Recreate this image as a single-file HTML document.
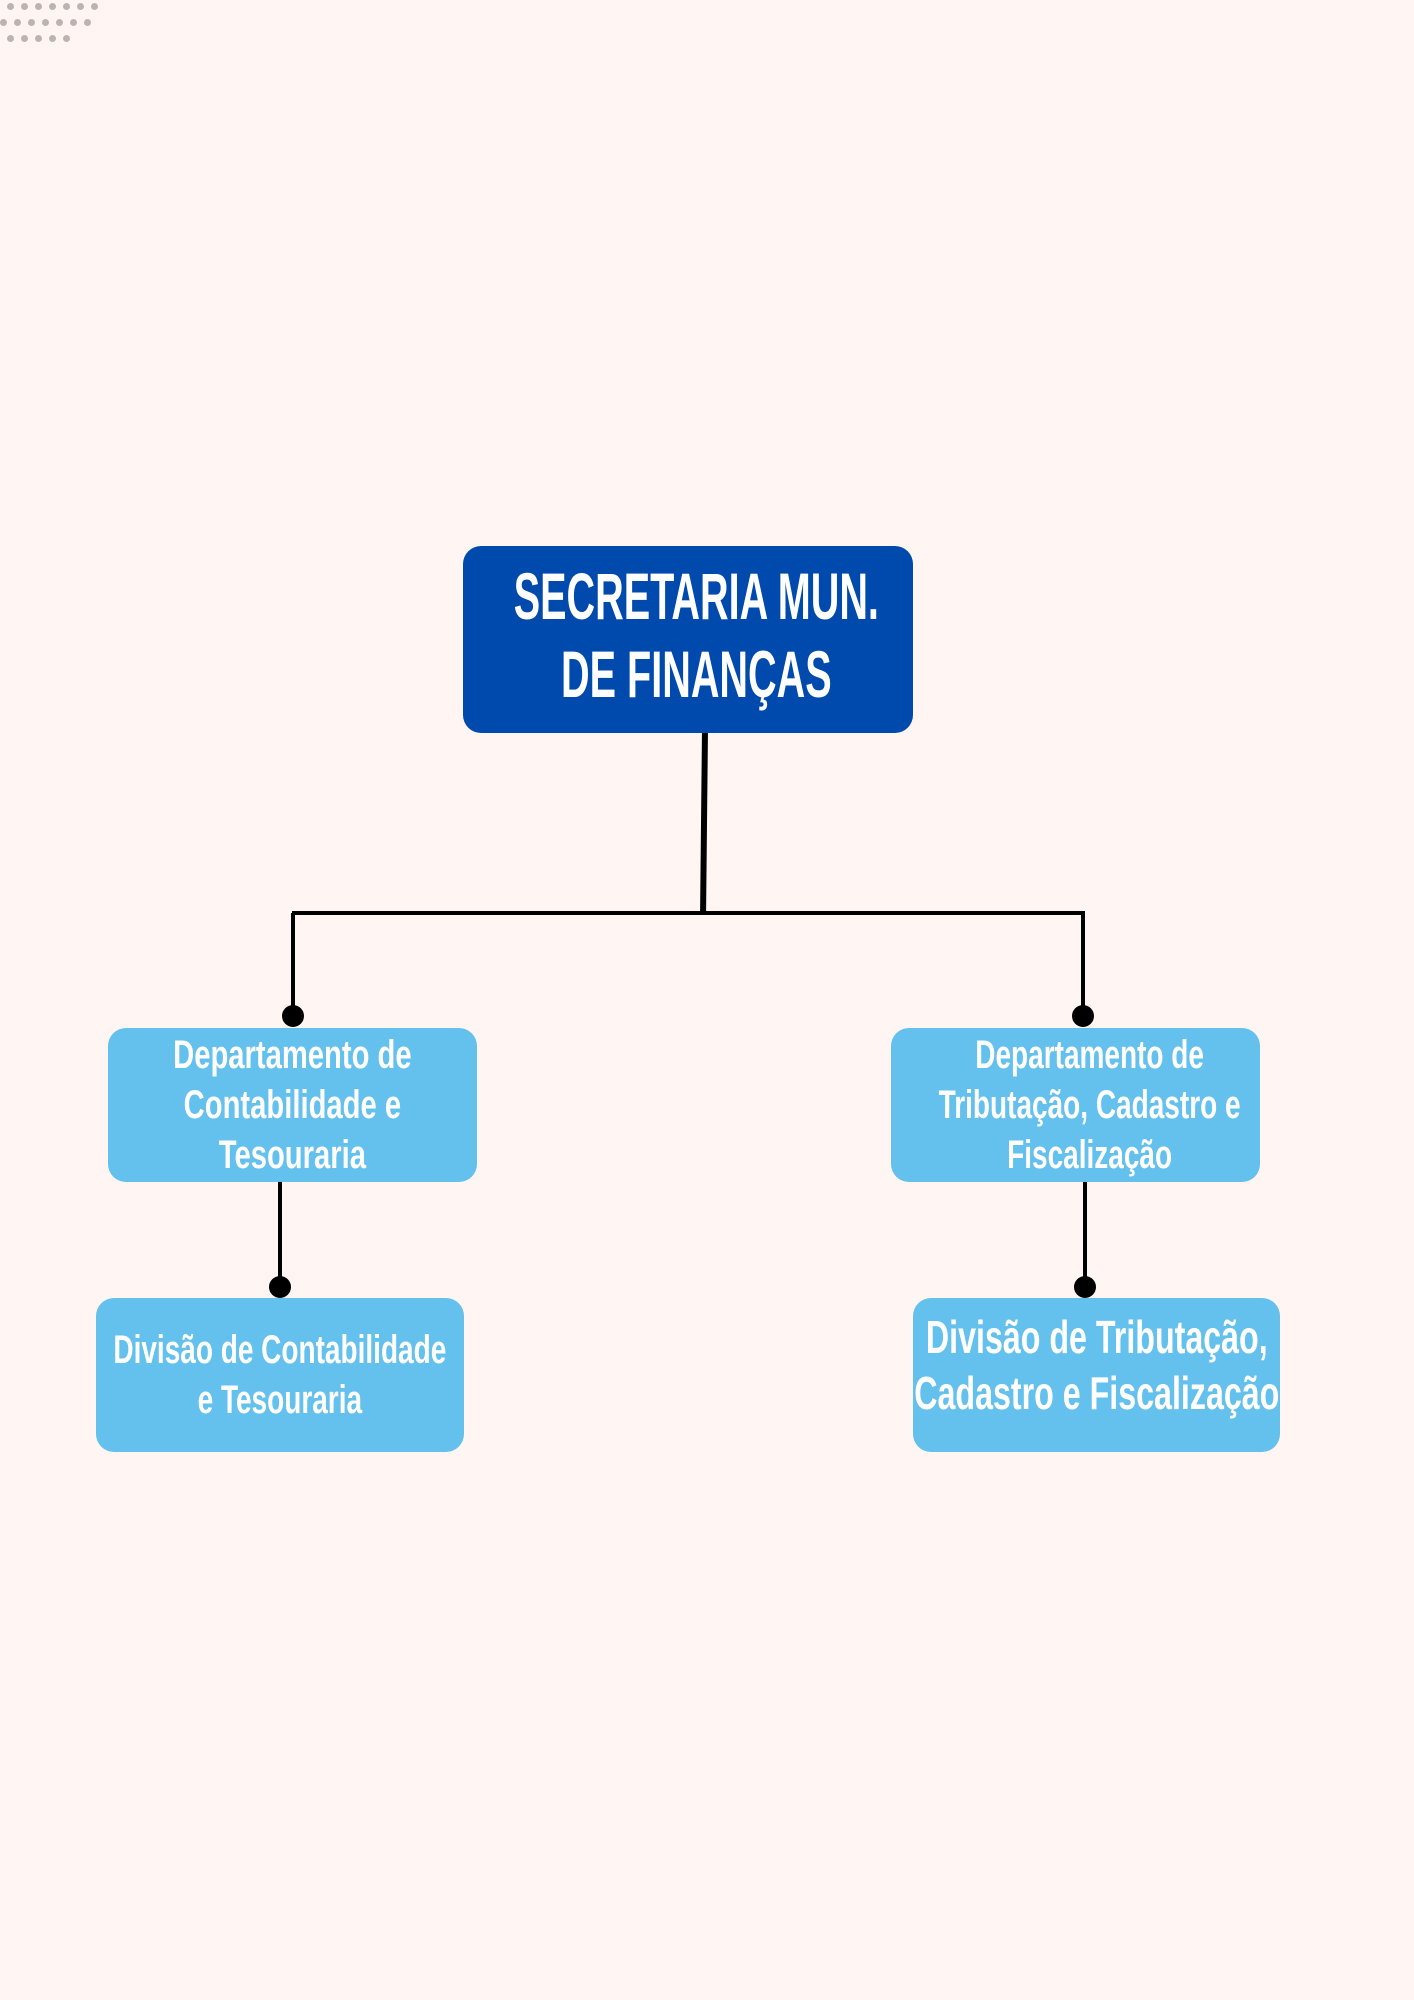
<!DOCTYPE html>
<html><head><meta charset="utf-8"><style>
body{margin:0;width:1414px;height:2000px;background:#fff6f4;position:relative;overflow:hidden;font-family:"Liberation Sans",sans-serif;font-weight:bold}
.b{position:absolute;display:flex;align-items:center;justify-content:center;text-align:center;color:#fff;border-radius:18px;background:#64c0ec;box-sizing:border-box}
.b span{display:inline-block;white-space:nowrap;transform:scaleX(0.73)}
.l{position:absolute;background:#000}
.d{position:absolute;width:22px;height:22px;border-radius:50%;background:#000}
.dot{position:absolute;width:7px;height:7px;border-radius:50%;background:#bdb4b2}
</style></head><body>
<div id="dots"></div>
<script>
var h='';for(var r=0;r<3;r++)for(var c=0;c<7;c++){var x=(r==1?0:14)+c*14;if(r==2&&c>4)continue;h+='<div class="dot" style="left:'+(r==1?x:x-7)+'px;top:'+(3+r*16)+'px"></div>';}
document.getElementById('dots').innerHTML=h;
</script>
<div class="b" style="left:463px;top:546px;width:450px;height:187px;background:#004aad;font-size:66px;line-height:78px;padding-left:16px;padding-bottom:10px"><span style="transform:scaleX(0.6)">SECRETARIA MUN.<br>DE FINANÇAS</span></div>
<div class="l" style="left:701px;top:733px;width:6px;height:182px;transform:skewX(-0.6deg)"></div>
<div class="l" style="left:292px;top:911px;width:793px;height:4px"></div>
<div class="l" style="left:291px;top:913px;width:4px;height:103px"></div>
<div class="l" style="left:1081px;top:911px;width:4px;height:105px"></div>
<div class="d" style="left:282px;top:1005px"></div>
<div class="d" style="left:1072px;top:1005px"></div>
<div class="b" style="left:108px;top:1028px;width:369px;height:154px;font-size:40px;line-height:50px"><span>Departamento de<br>Contabilidade e<br>Tesouraria</span></div>
<div class="b" style="left:891px;top:1028px;width:369px;height:154px;font-size:40px;line-height:50px;padding-left:28px"><span style="transform:scaleX(0.7)">Departamento de<br>Tributação, Cadastro e<br>Fiscalização</span></div>
<div class="l" style="left:278px;top:1182px;width:4px;height:105px"></div>
<div class="l" style="left:1083px;top:1182px;width:4px;height:105px"></div>
<div class="d" style="left:269px;top:1276px"></div>
<div class="d" style="left:1074px;top:1276px"></div>
<div class="b" style="left:96px;top:1298px;width:368px;height:154px;font-size:40px;line-height:50px"><span style="transform:scaleX(0.7)">Divisão de Contabilidade<br>e Tesouraria</span></div>
<div class="b" style="left:913px;top:1298px;width:367px;height:154px;font-size:46px;line-height:56px;padding-bottom:20px"><span style="transform:scaleX(0.70)">Divisão de Tributação,<br>Cadastro e Fiscalização</span></div>
</body></html>
